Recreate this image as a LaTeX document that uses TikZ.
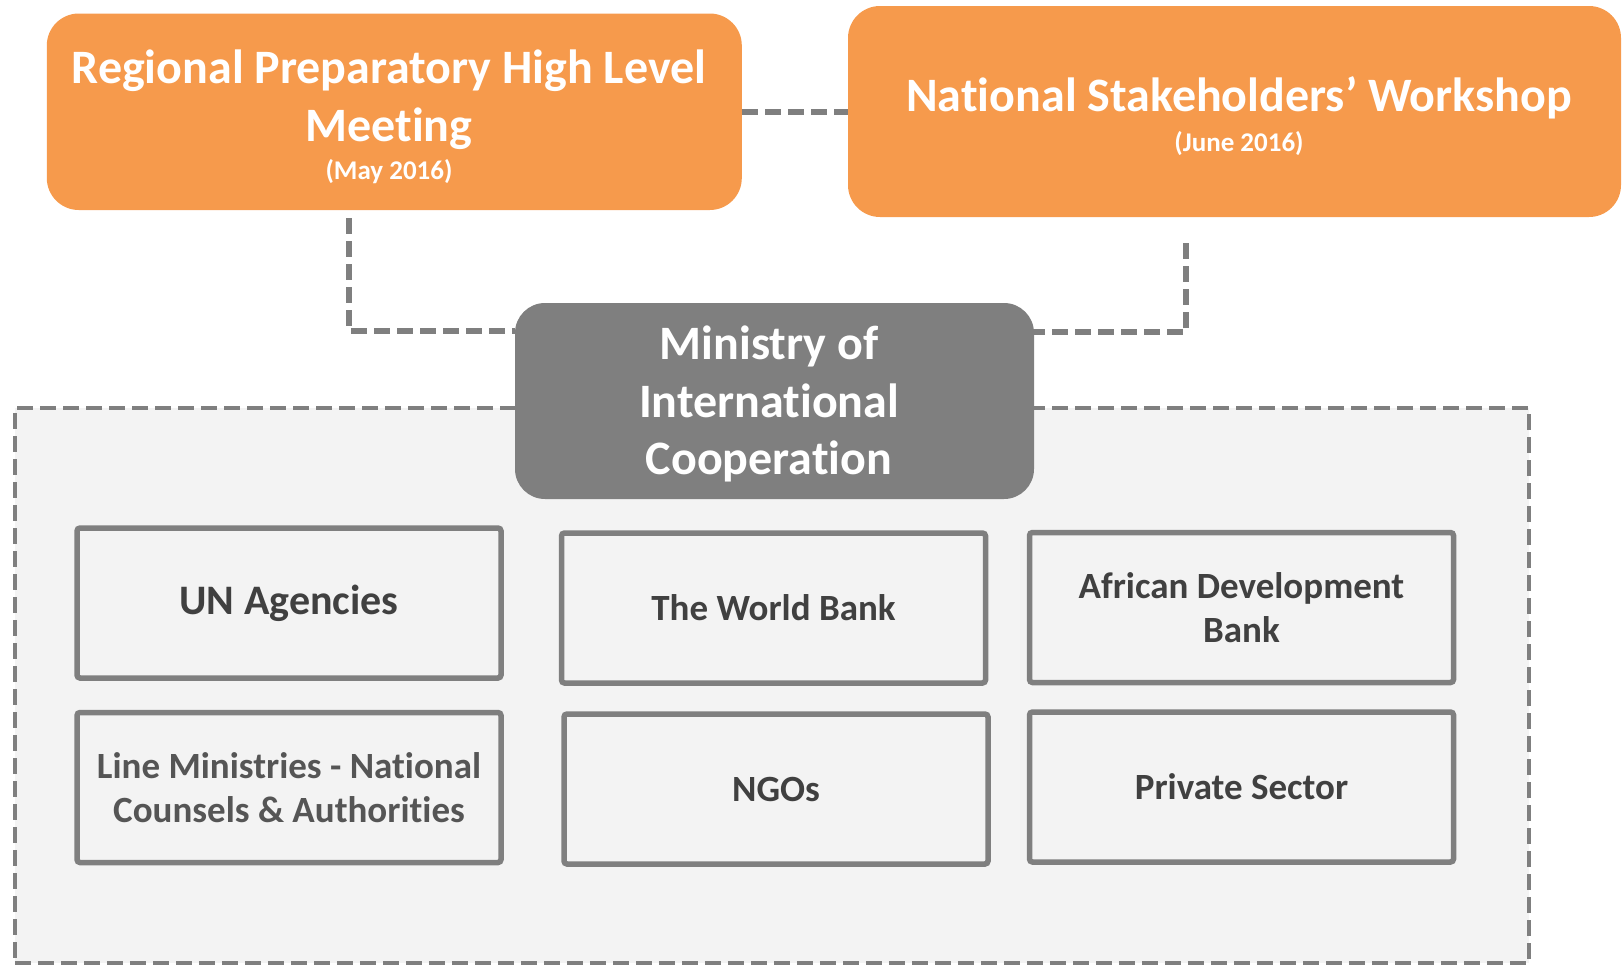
\documentclass[tikz,border=0pt]{standalone}
\usepackage{fontspec}
\setmainfont{Carlito}[Ligatures=NoCommon]
\definecolor{orng}{HTML}{F69A4C}
\definecolor{mgray}{HTML}{7F7F7F}
\definecolor{lfill}{HTML}{F3F3F3}
\definecolor{dtext}{HTML}{404040}
\definecolor{ltext}{HTML}{555555}
\begin{document}
\begin{tikzpicture}[x=1pt,y=-1pt,
  conn/.style={draw=mgray, line width=5.5pt, dash pattern=on 16pt off 7pt},
  orangebox/.style={fill=orng, draw=none, rounded corners=32pt, inner sep=0pt},
  mibox/.style={fill=mgray, draw=none, rounded corners=30pt, inner sep=0pt},
  bigtxt/.style={font=\fontsize{48}{58}\selectfont\bfseries, text=white, anchor=base, inner sep=0pt},
  smalltxt/.style={font=\fontsize{27}{32}\selectfont\bfseries, text=white, anchor=base, inner sep=0pt},
  member/.style={draw=mgray, line width=5.5pt, rounded corners=3pt, fill=lfill,
    minimum width=424pt, minimum height=150pt, inner sep=0pt, text=dtext,
    font=\fontsize{37}{44}\selectfont\bfseries, align=center}]
\useasboundingbox (0,0) rectangle (1623,967);

% container
\node[draw=mgray, fill=lfill, line width=4.5pt, dash pattern=on 16pt off 7pt,
  minimum width=1514pt, minimum height=555pt, inner sep=0pt] (frame) at (771.75,685.5) {};

% orange boxes
\node[orangebox, minimum width=695pt, minimum height=196.5pt] (lb) at (394.3,111.75) {};
\node[orangebox, minimum width=773pt, minimum height=211pt] (rb) at (1234.5,111.5) {};
% ministry box
\node[mibox, minimum width=519pt, minimum height=196pt] (mic) at (774.5,401) {};

% connectors
\draw[conn] (lb.east) -- (lb.east -| rb.west);
\draw[conn] ([xshift=-45.3pt,yshift=-8pt]lb.south) |- ([yshift=70pt]mic.west);
\draw[conn] ([xshift=-48.5pt,yshift=-26pt]rb.south) |- ([yshift=69pt]mic.east);

% texts in orange boxes
\node[bigtxt] (lb1) at (389,83) {Regional Preparatory High Level};
\node[bigtxt] (lb2) at (389,141) {Meeting};
\node[smalltxt] (lb3) at (389,179) {(May 2016)};
\node[bigtxt] (rb1) at (1239,111) {National Stakeholders’ Workshop};
\node[smalltxt] (rb2) at (1239,151) {(June 2016)};
% ministry texts
\node[bigtxt] (mi1) at (769,359) {Ministry of};
\node[bigtxt] (mi2) at (769,417) {International};
\node[bigtxt] (mi3) at (769,474) {Cooperation};

% members
\node[member, font=\fontsize{42}{50}\selectfont\bfseries] (un) at (289,603) {UN Agencies};
\node[member, text=ltext] (lm) at (289,787.5) {Line Ministries - National\\Counsels \& Authorities};
\node[member] (wb) at (773.5,608) {The World Bank};
\node[member] (ngo) at (776,789) {NGOs};
\node[member] (afdb) at (1241.5,607.5) {African Development\\Bank};
\node[member] (ps) at (1241.5,787) {Private Sector};
\end{tikzpicture}
\end{document}
